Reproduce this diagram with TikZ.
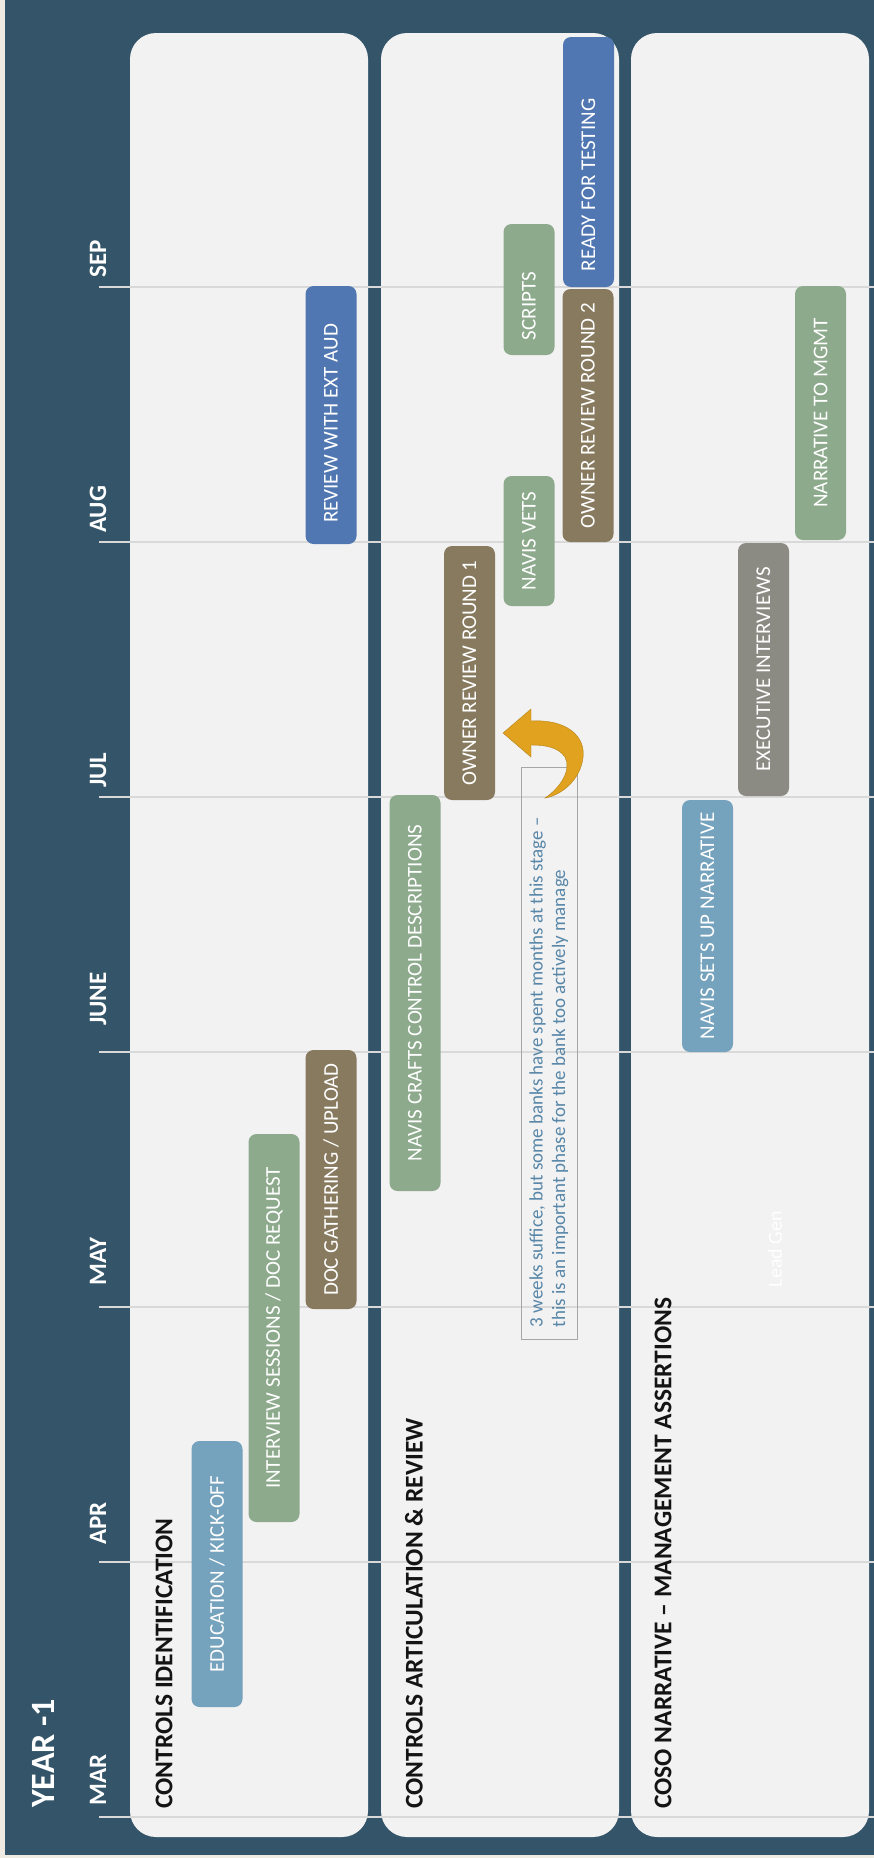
\documentclass[tikz,border=0pt]{standalone}
\usepackage{fontspec}
\setmainfont{Carlito}
\definecolor{bgpaper}{HTML}{EFEBE2}
\definecolor{bgslate}{HTML}{345569}
\definecolor{lanegray}{HTML}{F2F2F2}
\definecolor{gridgray}{HTML}{D9D9D9}
\definecolor{titleblack}{HTML}{141414}
\definecolor{tasksteel}{HTML}{75A2BD}
\definecolor{tasksage}{HTML}{8DAA8D}
\definecolor{taskumber}{HTML}{877A5F}
\definecolor{taskblue}{HTML}{5177B2}
\definecolor{taskstone}{HTML}{8B8A83}
\definecolor{notecolor}{HTML}{5786A8}
\definecolor{arrowgold}{HTML}{E0A21F}
\tikzset{
	lane/.style={fill=lanegray, rounded corners=26pt},
	month line/.style={draw=gridgray, line width=1.3pt},
	month label/.style={rotate=90, anchor=west, inner sep=0pt, text=white,
		font=\fontsize{25}{30}\selectfont\bfseries},
	lane title/.style={rotate=90, anchor=west, inner sep=0pt, text=titleblack,
		font=\fontsize{25.5}{30}\selectfont\bfseries},
	task/.style={rotate=90, rounded corners=8pt, inner sep=0pt, minimum height=51pt,
		text=white, font=\fontsize{21}{25}\selectfont},
}

\begin{document}
\begin{tikzpicture}[x=1pt,y=-1pt]
		\useasboundingbox (0,0) rectangle (874,1858);
		\fill[bgpaper] (0,0) rectangle (874,1858);
		\fill[bgslate] (5,0) rectangle (874,1855);
		\fill[lane] (130,33) rectangle (368,1837);
		\fill[lane] (381,33) rectangle (619,1837);
		\fill[lane] (631,33) rectangle (869,1837);
		\draw[month line] (99,1817) -- (874,1817);
		\draw[month line] (99,1562) -- (874,1562);
		\draw[month line] (99,1307) -- (874,1307);
		\draw[month line] (99,1052) -- (874,1052);
		\draw[month line] (99,797) -- (874,797);
		\draw[month line] (99,542) -- (874,542);
		\draw[month line] (99,287) -- (874,287);
		\node[rotate=90, anchor=west, inner sep=0pt, text=white,
		font=\fontsize{34}{40}\selectfont\bfseries] (year) at (43,1808) {YEAR -1};
		\node[month label] (mar) at (98,1806) {MAR};
		\node[month label] (apr) at (98,1545) {APR};
		\node[month label] (may) at (98,1286) {MAY};
		\node[month label] (june) at (98,1026) {JUNE};
		\node[month label] (jul) at (98,788) {JUL};
		\node[month label] (aug) at (98,533) {AUG};
		\node[month label] (sep) at (98,278) {SEP};
		\node[lane title] (identification) at (164,1809) {CONTROLS IDENTIFICATION};
		\node[lane title] (articulation) at (414,1809) {CONTROLS ARTICULATION \& REVIEW};
		\node[lane title] (coso) at (663,1809) {COSO NARRATIVE -- MANAGEMENT ASSERTIONS};
		\node[task, fill=tasksteel, minimum width=266pt] (kickoff) at (217,1574) {EDUCATION / KICK-OFF};
		\node[task, fill=tasksage, minimum width=388pt] (interviews) at (274,1328) {INTERVIEW SESSIONS / DOC REQUEST};
		\node[task, fill=taskumber, minimum width=259pt] (gathering) at (331,1179.5) {DOC GATHERING / UPLOAD};
		\node[task, fill=taskblue, minimum width=258pt] (extaud) at (331,415) {REVIEW WITH EXT AUD\hspace*{17pt}};
		\node[task, fill=tasksage, minimum width=396pt] (crafts) at (415,993) {NAVIS CRAFTS CONTROL DESCRIPTIONS};
		\node[task, fill=taskumber, minimum width=254pt] (roundone) at (469.5,673) {OWNER REVIEW ROUND 1};
		\node[task, fill=tasksage, minimum width=130pt] (vets) at (529,541) {NAVIS VETS};
		\node[task, fill=tasksage, minimum width=131pt] (scripts) at (529,289.5) {SCRIPTS\hspace*{33pt}};
		\node[task, fill=taskumber, minimum width=253pt] (roundtwo) at (588,415.5) {OWNER REVIEW ROUND 2};
		\node[task, fill=taskblue, minimum width=250pt] (testing) at (588.5,162) {READY FOR TESTING\hspace*{46pt}};
		\node[task, fill=tasksteel, minimum width=252pt] (setup) at (707.5,926) {NAVIS SETS UP NARRATIVE};
		\node[task, fill=taskstone, minimum width=253pt] (executive) at (763.5,669.5) {EXECUTIVE INTERVIEWS};
		\node[task, fill=tasksage, minimum width=254pt] (tomgmt) at (820.5,413) {NARRATIVE TO MGMT};
		\node[rotate=90, text=white, inner sep=0pt, font=\fontsize{20}{24}\selectfont] (leadgen) at (775,1249) {Lead Gen};
		\node[draw=black!35, line width=1pt, rotate=90, inner sep=0pt, minimum width=572pt,
		minimum height=56pt, text width=548pt, align=flush left, text=notecolor,
		font=\fontsize{19}{22.5}\selectfont] (note) at (549,1053)
		{3 weeks suffice, but some banks have spent months at this stage --\\
			this is an important phase for the bank too actively manage};
		\fill[arrowgold, draw=arrowgold!80!black, line width=0.4pt]
		(503,733) -- (531,709) -- (531,721)
		.. controls (565,719) and (586,735) .. (583,758)
		.. controls (580,780) and (562,795) .. (545,798)
		.. controls (560,788) and (572,770) .. (565,757)
		.. controls (558,747) and (545,745) .. (531,745)
		-- (531,757) -- cycle;
\end{tikzpicture}
\end{document}
